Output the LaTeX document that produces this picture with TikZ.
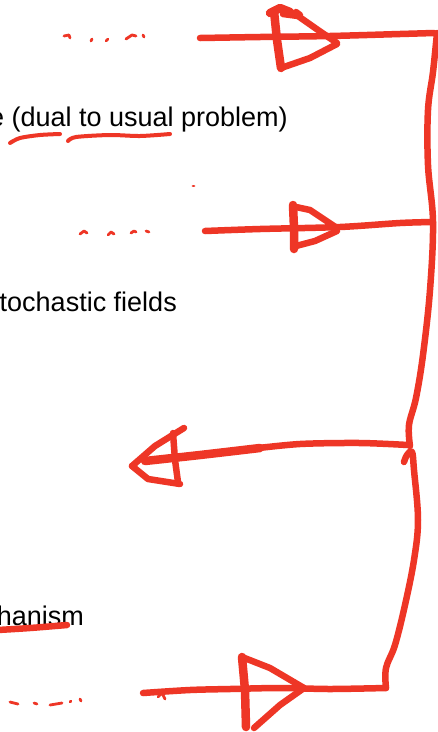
\documentclass[tikz,border=0pt]{standalone}
\usepackage{fontspec}
\setmainfont{Liberation Sans}
\definecolor{ink}{RGB}{238,54,38}
\tikzset{
  pen/.style={draw=ink, line width=6.5pt, line cap=round, line join=round},
  thickpen/.style={draw=ink, line width=8.5pt, line cap=round, line join=round},
  thinpen/.style={draw=ink, line width=4pt, line cap=round, line join=round},
  dotpen/.style={draw=ink, line width=2.8pt, line cap=round, line join=round},
  txt/.style={inner sep=0pt, anchor=base east, font=\fontsize{27}{32}\selectfont, text=black}
}
\begin{document}
\begin{tikzpicture}[x=1pt,y=-1pt]
\useasboundingbox (0,0) rectangle (438,732);
\clip (0,0) rectangle (438,732);
\fill[white] (0,0) rectangle (438,732);

% texts (cut at the left edge, as in the reference)
\node[txt] (t1) at (288,126) {e (dual to usual problem)};
\node[txt] (t2) at (177,311) {tochastic fields};
\node[txt] (t3) at (84,625) {hanism};

% underlines
\draw[thinpen] plot[smooth] coordinates {(10,143) (20,138) (40,135) (60,134)};
\draw[thinpen] plot[smooth] coordinates {(68,141) (76,137) (110,135) (140,136) (170,134)};
\draw[pen] plot[smooth] coordinates {(-2,630) (30,628) (67,625)};

% fragments of hidden handwriting
\draw[dotpen] (64,36) -- (69,35) -- (70,38);
\draw[dotpen] (91,41) -- (92,39);
\draw[dotpen] (106,41) -- (108,39);
\draw[dotpen] (126,39) -- (132,35) -- (136,36);
\draw[dotpen] (143,35) -- (144,37);
\draw[dotpen] (80,234) -- (84,231) -- (87,233);
\draw[dotpen] (108,235) -- (111,232) -- (114,234);
\draw[dotpen] (131,233) -- (134,231) -- (136,232);
\draw[dotpen] (146,231) -- (149,232);
\draw[dotpen] (193,186) -- (194,186);
\draw[dotpen] (10,702) -- (18,704);
\draw[dotpen] (34,703) -- (37,704);
\draw[dotpen] (50,705) -- (62,703);
\draw[dotpen] (70,702) -- (71,701);
\draw[dotpen] (80,699) -- (81,701);

% vertical spine
\draw[pen] plot[smooth, tension=0.6] coordinates {(437,33) (433,72) (428,110) (428,165) (433,222) (430,290) (423,355) (416,398) (409,425) (410,446)};
\draw[pen] plot[smooth, tension=0.6] coordinates {(404,462) (407,455) (412,452) (414,470) (418,520) (414,560) (405,605) (395,645) (386,668) (386,688)};

% arrow 1 (top, pointing right)
\draw[pen] plot[smooth, tension=0.5] coordinates {(200,38) (260,37) (330,36) (400,34) (434,33)};
\draw[thickpen] (274,11) -- (277,40) -- (281,68);
\draw[pen] (281,68) -- (310,58) -- (337,44);
\draw[pen] (283,14) -- (298,16) -- (318,30) -- (337,43);
\draw[thickpen] (270,13) -- (280,8) -- (290,12);
\draw[pen] (296,12) -- (300,15);

% arrow 2 (pointing right)
\draw[pen] plot[smooth, tension=0.5] coordinates {(205,231) (260,229) (340,227) (400,223) (433,222)};
\draw[thickpen] (293,205) -- (294,228) -- (294,249);
\draw[pen] (296,207) -- (310,210) -- (337,228);
\draw[pen] (337,231) -- (315,241) -- (296,246);

% arrow 3 (pointing left)
\draw[pen] plot[smooth, tension=0.5] coordinates {(408,445) (360,443) (300,444) (250,449)};
\draw[thickpen] plot[smooth, tension=0.5] coordinates {(260,448) (200,455) (145,461)};
\draw[pen] (132,466) -- (155,446) -- (184,428);
\draw[pen] (132,466) -- (148,479) -- (180,484);
\draw[pen] (173,433) -- (175,460) -- (178,482);

% arrow 4 (bottom, pointing right)
\draw[pen] plot[smooth, tension=0.5] coordinates {(143,693) (190,690) (230,689) (280,688) (330,689) (386,688)};
\draw[thickpen] (242,657) -- (245,690) -- (246,727);
\draw[pen] (242,657) -- (270,668) -- (304,688);
\draw[pen] (304,688) -- (280,705) -- (254,728);
\draw[dotpen] (158,697) -- (162,693) -- (165,699);
\end{tikzpicture}
\end{document}
